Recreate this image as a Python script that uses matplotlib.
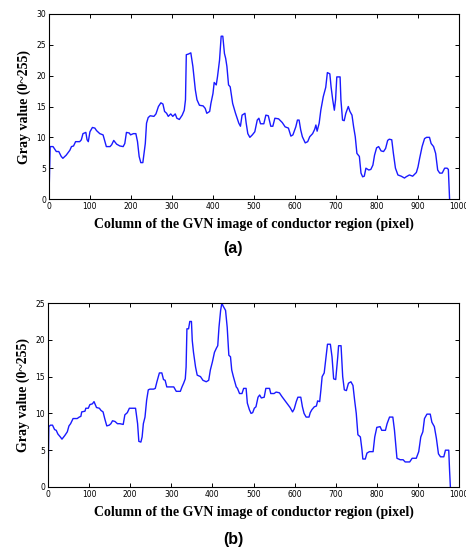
import matplotlib
matplotlib.use('Agg')
import matplotlib.pyplot as plt

# panel (a) profile
xa = [0, 3, 10, 18, 24, 30, 34, 42, 51, 55, 60, 65, 75, 79, 83, 90, 93, 96, 100, 106,
      112, 116, 124, 132, 140, 149, 153, 158, 165, 173, 181, 185, 189, 196, 199, 206, 212, 216, 220, 224,
      229, 232, 235, 238, 242, 247, 256, 261, 267, 273, 278, 282, 287, 291, 297, 302, 308, 312, 318, 325,
      330, 333, 335, 340, 346, 351, 357, 361, 367, 376, 381, 385, 392, 395, 400, 403, 408, 411, 416, 420,
      424, 428, 431, 434, 438, 442, 448, 455, 463, 467, 471, 478, 481, 485, 490, 496, 502, 508, 512, 516,
      524, 529, 535, 541, 546, 551, 560, 569, 576, 584, 590, 595, 602, 606, 610, 614, 618, 625, 631, 636,
      643, 648, 651, 654, 659, 663, 669, 675, 679, 685, 688, 692, 696, 699, 702, 710, 712, 716, 720, 724,
      730, 734, 739, 743, 747, 751, 757, 761, 765, 769, 773, 780, 785, 790, 794, 799, 804, 810, 816, 821,
      826, 830, 836, 840, 845, 851, 859, 867, 871, 879, 887, 896, 900, 904, 910, 916, 921, 928, 932, 938,
      943, 948, 953, 959, 965, 971, 974, 977]
ya = [0, 8.5, 8.5, 7.7, 7.7, 6.9, 6.6, 7.1, 7.9, 8.5, 8.6, 9.3, 9.3, 9.6, 10.6, 10.8, 9.6, 9.3, 10.9, 11.6,
      11.5, 11.1, 10.6, 10.4, 8.5, 8.5, 8.8, 9.5, 8.9, 8.6, 8.5, 9.0, 10.8, 10.7, 10.4, 10.6, 10.6, 9.3, 6.9, 5.9,
      5.9, 7.4, 9.0, 12.3, 13.2, 13.5, 13.4, 13.8, 15.0, 15.6, 15.4, 14.2, 13.9, 13.4, 13.8, 13.4, 13.8, 13.1, 12.9, 13.6,
      14.4, 16.1, 23.4, 23.5, 23.7, 21.5, 17.7, 16.1, 15.2, 15.1, 14.7, 13.9, 14.2, 15.5, 17.1, 18.9, 18.5, 19.8, 22.5, 26.4,
      26.4, 23.6, 22.8, 21.5, 18.5, 18.2, 15.5, 13.9, 12.3, 11.8, 13.6, 13.9, 12.3, 10.6, 10.0, 10.4, 10.9, 12.8, 13.1, 12.2,
      12.2, 13.6, 13.5, 11.8, 11.8, 13.1, 13.0, 12.4, 11.7, 11.5, 10.2, 10.4, 11.7, 12.8, 12.8, 11.2, 10.1, 9.1, 9.3, 10.1,
      10.6, 11.3, 12.0, 11.0, 12.3, 14.4, 16.6, 18.1, 20.5, 20.3, 18.2, 16.1, 14.4, 16.1, 19.8, 19.8, 16.1, 12.8, 12.7, 13.9,
      15.0, 14.2, 13.6, 11.7, 10.1, 7.4, 6.9, 4.2, 3.6, 3.7, 5.0, 4.7, 4.8, 5.5, 7.1, 8.3, 8.5, 7.8, 7.7, 8.2,
      9.5, 9.7, 9.6, 7.4, 5.0, 3.9, 3.7, 3.4, 3.6, 3.9, 3.7, 4.3, 5.2, 6.6, 8.5, 9.8, 10.0, 10.0, 9.0, 8.5,
      7.4, 4.7, 4.2, 4.2, 5.0, 5.0, 4.8, 0]

# panel (b) profile
xb = [0, 2, 6, 11, 16, 20, 24, 30, 34, 41, 47, 51, 55, 61, 71, 76, 80, 82, 90, 92,
      98, 102, 108, 112, 118, 125, 129, 134, 138, 143, 149, 153, 157, 163, 169, 175, 183, 187, 193, 198,
      208, 213, 218, 221, 226, 229, 232, 236, 240, 244, 248, 257, 261, 265, 271, 277, 281, 285, 289, 297,
      306, 312, 322, 326, 330, 334, 336, 338, 342, 345, 349, 351, 354, 359, 363, 371, 377, 385, 391, 395,
      400, 405, 410, 413, 416, 420, 423, 426, 432, 436, 440, 444, 447, 451, 458, 461, 466, 472, 476, 482,
      485, 490, 494, 498, 502, 506, 511, 515, 519, 526, 530, 539, 542, 550, 555, 563, 569, 577, 585, 589,
      595, 599, 604, 608, 615, 619, 623, 628, 635, 638, 642, 648, 653, 656, 661, 664, 667, 672, 676, 680,
      687, 691, 695, 700, 705, 707, 713, 717, 721, 726, 731, 737, 742, 746, 750, 754, 760, 764, 766, 772,
      776, 782, 791, 795, 800, 808, 812, 821, 825, 831, 839, 843, 849, 857, 864, 869, 880, 886, 896, 902,
      907, 912, 916, 922, 930, 934, 940, 945, 950, 955, 963, 967, 975, 977, 979]
yb = [0, 8.2, 8.4, 8.4, 7.8, 7.7, 7.2, 6.8, 6.5, 7.0, 7.5, 8.3, 8.6, 9.3, 9.3, 9.5, 9.6, 10.2, 10.3, 10.7,
      10.7, 11.2, 11.3, 11.6, 10.8, 10.7, 10.4, 10.2, 9.3, 8.3, 8.4, 8.6, 9.0, 8.9, 8.6, 8.6, 8.5, 9.8, 10.1, 10.7,
      10.7, 10.7, 8.6, 6.2, 6.1, 6.8, 8.6, 9.5, 11.8, 13.2, 13.3, 13.3, 13.4, 14.3, 15.5, 15.5, 14.6, 14.5, 13.6, 13.6,
      13.6, 13.0, 13.0, 13.6, 14.1, 14.7, 16.3, 21.5, 21.5, 22.5, 22.5, 19.9, 18.3, 16.3, 15.2, 15.0, 14.5, 14.3, 14.5, 15.9,
      17.0, 18.3, 18.9, 19.2, 21.7, 24.0, 25.0, 24.6, 24.0, 21.7, 17.9, 17.7, 15.9, 15.0, 13.6, 13.4, 12.7, 12.7, 13.4, 13.4,
      11.4, 10.5, 10.0, 10.1, 10.7, 10.9, 12.2, 12.5, 12.1, 12.2, 13.4, 13.4, 12.7, 12.7, 12.9, 12.8, 12.3, 11.7, 11.1, 10.8,
      10.2, 10.6, 11.6, 12.2, 12.2, 10.9, 10.0, 9.5, 9.5, 10.1, 10.5, 10.9, 11.0, 11.7, 11.6, 13.2, 15.0, 15.5, 17.4, 19.4,
      19.4, 17.7, 14.7, 14.6, 17.7, 19.2, 19.2, 15.0, 13.2, 13.1, 14.1, 14.3, 13.8, 11.8, 10.0, 7.1, 6.8, 5.0, 3.8, 3.8,
      4.6, 4.8, 4.8, 6.8, 8.1, 8.2, 7.7, 7.7, 8.6, 9.5, 9.5, 7.7, 3.9, 3.7, 3.7, 3.4, 3.4, 3.9, 3.9, 4.8,
      6.8, 7.5, 9.3, 9.9, 9.9, 8.8, 8.2, 6.6, 4.5, 4.1, 4.1, 5.0, 5.0, 2.3, 0]

xlabel = 'Column of the GVN image of conductor region (pixel)'
ylabel = 'Gray value (0~255)'

fig = plt.figure(figsize=(4.66, 5.49), dpi=100)
ax_a = fig.add_axes([0.105, 0.6375, 0.880, 0.337])
ax_b = fig.add_axes([0.103, 0.113, 0.882, 0.335])

panels = [(ax_a, xa, ya, 30, '(a)', 0.5465), (ax_b, xb, yb, 25, '(b)', 0.0165)]
for ax, x, y, ymax, tag, tag_y in panels:
    ax.plot(x, y, color='#1a1aff', lw=1.0)
    ax.set_xlim(0, 1000)
    ax.set_ylim(0, ymax)
    ax.set_xticks(range(0, 1001, 100))
    ax.set_yticks(range(0, ymax + 1, 5))
    ax.tick_params(direction='in', top=True, right=True, length=3, width=0.7,
                   labelsize=5.5, pad=2)
    for s in ax.spines.values():
        s.set_linewidth(0.8)
    ax.set_xlabel(xlabel, family='Liberation Serif', fontweight='bold', fontsize=10, labelpad=5)
    ax.set_ylabel(ylabel, family='Liberation Serif', fontweight='bold', fontsize=10, labelpad=4)
    fig.text(0.5, tag_y, tag, family='Liberation Sans', fontweight='bold', fontsize=11.5,
             ha='center', va='center')

fig.savefig('out.png', dpi=100)
